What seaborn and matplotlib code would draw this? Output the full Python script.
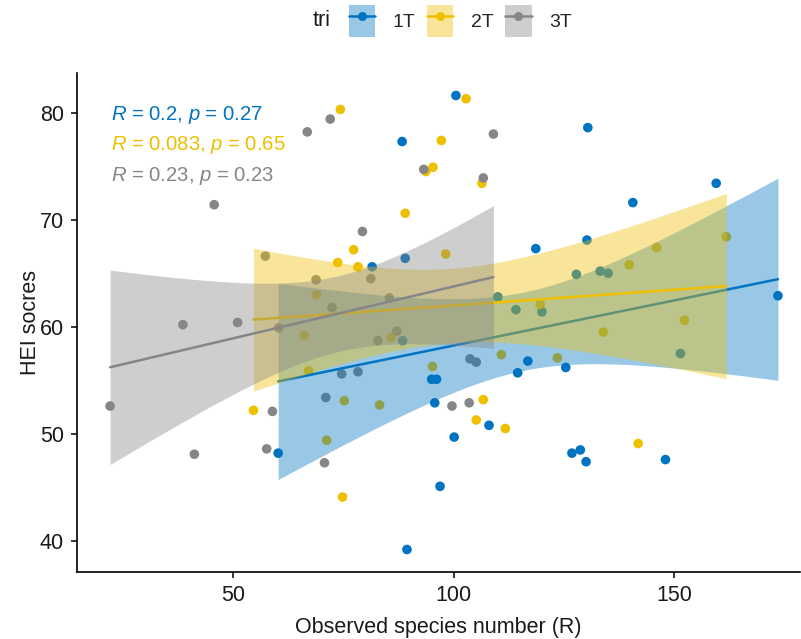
import matplotlib
matplotlib.use("Agg")
import matplotlib.pyplot as plt
import seaborn as sns
import pandas as pd
import numpy as np
from matplotlib.patches import Patch
from matplotlib.lines import Line2D
from matplotlib.legend_handler import HandlerTuple

# ---- data ----
groups = ["1T", "2T", "3T"]
colors = ["#0073C2", "#EFC000", "#868686"]

x_1T = [100.5, 88.3, 130.4, 140.6, 159.5, 118.6, 130.2, 81.5, 89.0, 127.8, 133.2,
        135.0, 173.5, 151.4, 125.4, 126.8, 128.7, 130.0, 148.0, 110.0, 114.1, 120.0,
        88.4, 95.0, 96.1, 116.8, 114.5, 95.7, 108.0, 100.1, 96.9, 89.4, 60.2]
y_1T = [81.6, 77.3, 78.6, 71.6, 73.4, 67.3, 68.1, 65.6, 66.4, 64.9, 65.2,
        65.0, 62.9, 57.5, 56.2, 48.2, 48.5, 47.4, 47.6, 62.8, 61.6, 61.4,
        58.7, 55.1, 55.1, 56.8, 55.7, 52.9, 50.8, 49.7, 45.1, 39.2, 48.2]

x_2T = [74.3, 102.8, 97.2, 93.7, 95.3, 106.4, 89.0, 77.3, 73.7, 78.3, 98.2,
        161.8, 146.0, 139.8, 152.3, 133.9, 123.5, 141.8, 119.6, 110.8, 68.9, 66.1,
        67.1, 75.2, 83.2, 54.6, 85.8, 95.2, 71.2, 74.8, 106.7, 105.1, 111.7]
y_2T = [80.3, 81.3, 77.4, 74.5, 74.9, 73.4, 70.6, 67.2, 66.0, 65.6, 66.8,
        68.4, 67.4, 65.8, 60.6, 59.5, 57.1, 49.1, 62.1, 57.4, 63.0, 59.2,
        55.9, 53.1, 52.7, 52.2, 59.0, 56.3, 49.4, 44.1, 53.2, 51.3, 50.5]

x_3T = [72.0, 66.8, 109.0, 93.2, 106.7, 79.3, 45.7, 57.3, 68.8, 72.4, 60.3,
        51.0, 38.6, 74.6, 78.3, 71.0, 58.9, 82.8, 87.1, 85.4, 81.2, 103.7,
        105.1, 70.7, 99.6, 103.5, 22.1, 41.2, 57.6]
y_3T = [79.4, 78.2, 78.0, 74.7, 73.9, 68.9, 71.4, 66.6, 64.4, 61.8, 59.9,
        60.4, 60.2, 55.6, 55.8, 53.4, 52.1, 58.7, 59.6, 62.7, 64.5, 57.0,
        56.7, 47.3, 52.6, 52.9, 52.6, 48.1, 48.6]

cor_labels = ["0.2", "0.083", "0.23"]
p_labels = ["0.27", "0.65", "0.23"]

xticks = [50, 100, 150]
yticks = [40, 50, 60, 70, 80]

df = pd.DataFrame({
    "species": x_1T + x_2T + x_3T,
    "HEI": y_1T + y_2T + y_3T,
    "tri": ["1T"] * len(x_1T) + ["2T"] * len(x_2T) + ["3T"] * len(x_3T),
})


def t_crit(nu, conf=0.95):
    try:
        from scipy import stats
        return stats.t.ppf(0.5 + conf / 2, nu)
    except Exception:
        z = 1.959963984540054
        return (z + (z**3 + z) / (4 * nu) + (5 * z**5 + 16 * z**3 + 3 * z) / (96 * nu**2)
                + (3 * z**7 + 19 * z**5 + 17 * z**3 - 15 * z) / (384 * nu**3))


def lm_band(x, y, n_grid=100):
    x = np.asarray(x, float)
    y = np.asarray(y, float)
    n = len(x)
    b1, b0 = np.polyfit(x, y, 1)
    resid = y - (b0 + b1 * x)
    s = np.sqrt(np.sum(resid**2) / (n - 2))
    xm = x.mean()
    sxx = np.sum((x - xm) ** 2)
    grid = np.linspace(x.min(), x.max(), n_grid)
    fit = b0 + b1 * grid
    se = s * np.sqrt(1 / n + (grid - xm) ** 2 / sxx)
    t = t_crit(n - 2)
    return grid, fit - t * se, fit + t * se


# ---- style ----
sns.set_theme(style="ticks")
plt.rcParams["font.family"] = ["Liberation Sans", "DejaVu Sans"]
plt.rcParams["mathtext.fontset"] = "custom"
plt.rcParams["mathtext.rm"] = "Liberation Sans"
plt.rcParams["mathtext.it"] = "Liberation Sans:italic"

fig = plt.figure(figsize=(8.01, 6.39), dpi=100)
ax = fig.add_axes([77 / 801, 1 - 572 / 639, (800 - 77) / 801, (572 - 73) / 639])

palette = dict(zip(groups, colors))
sns.scatterplot(data=df, x="species", y="HEI", hue="tri", palette=palette,
                hue_order=groups, s=48, linewidth=0, legend=False, ax=ax, zorder=2)

for g, c in zip(groups, colors):
    sub = df[df["tri"] == g]
    gx, lo, hi = lm_band(sub["species"], sub["HEI"])
    ax.fill_between(gx, lo, hi, color=c, alpha=0.4, linewidth=0, zorder=3)
    sns.regplot(data=sub, x="species", y="HEI", scatter=False, ci=None,
                color=c, truncate=True,
                line_kws={"linewidth": 1.8, "zorder": 3}, ax=ax)

# correlation labels
ys_lab = [79.8, 77.0, 74.1]
for c, r, p, yl in zip(colors, cor_labels, p_labels, ys_lab):
    ax.text(22.2, yl, rf"$\it{{R}}$ = {r}, $\it{{p}}$ = {p}", color=c,
            fontsize=14.6, va="center", ha="left", zorder=5)

ax.set_xlim(14.6, 178.5)
ax.set_ylim(37.1, 83.7)
ax.set_xticks(xticks)
ax.set_yticks(yticks)
ax.tick_params(axis="both", labelsize=15.5, length=4.5, width=1.1, color="black",
               labelcolor="#1a1a1a", pad=5)
for s in ["top", "right"]:
    ax.spines[s].set_visible(False)
for s in ["left", "bottom"]:
    ax.spines[s].set_color("black")
    ax.spines[s].set_linewidth(1.2)
ax.set_xlabel("Observed species number (R)", fontsize=15.5, color="#1a1a1a", labelpad=8)
ax.set_ylabel("HEI socres", fontsize=15.5, color="#1a1a1a", labelpad=-1)

# legend at top
handles = []
for c in colors:
    handles.append((Patch(facecolor=c, alpha=0.4, edgecolor="none"),
                    Line2D([0], [0], color=c, lw=1.8, marker="o", markersize=6.5,
                           markeredgewidth=0)))
fig.text(322 / 801, 1 - 21 / 639, "tri", fontsize=15.5, va="center", ha="center",
         color="#1a1a1a")
fig.legend(handles, groups, handler_map={tuple: HandlerTuple(ndivide=1, pad=0)},
           loc="center left", bbox_to_anchor=(349 / 801, 1 - 21 / 639), ncol=3,
           frameon=False, fontsize=14, handlelength=1.35, handleheight=2.1,
           handletextpad=0.9, columnspacing=0.6, borderpad=0, borderaxespad=0)

fig.savefig("out.png", dpi=100)
